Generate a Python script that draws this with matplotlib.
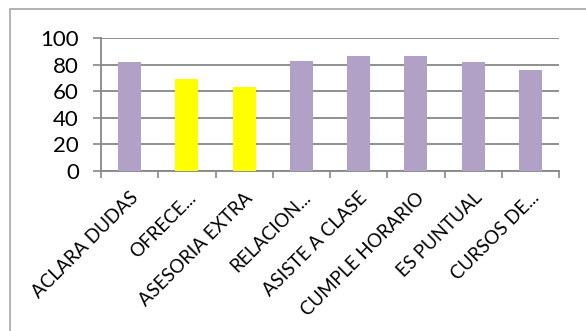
import numpy as np
import matplotlib
matplotlib.use("Agg")
import matplotlib.pyplot as plt
from matplotlib.patches import Rectangle

categories = ["ACLARA DUDAS", "OFRECE...", "ASESORIA EXTRA", "RELACION...",
              "ASISTE A CLASE", "CUMPLE HORARIO", "ES PUNTUAL", "CURSOS DE..."]
values = [82, 69, 63, 83, 87, 87, 82, 76]
highlight = [False, True, True, False, False, False, False, False]

PURPLE = "#B2A1C7"
YELLOW = "#FFFF00"
GRID = "#878787"

plt.rcParams["font.family"] = ["Lato", "DejaVu Sans"]

fig = plt.figure(figsize=(5.86, 3.31), dpi=100)
ax = fig.add_axes([101 / 586, 1 - 171 / 331, 458 / 586, (171 - 38.3) / 331])

# outer chart-area frame (cropped on right and bottom)
fig.patches.append(Rectangle((10 / 586, -0.1), 1.2, 1 - 9 / 331 + 0.1,
                             transform=fig.transFigure, fill=False,
                             edgecolor="#a6a6a6", linewidth=1.2))

x = np.arange(len(categories))
colors = [YELLOW if h else PURPLE for h in highlight]
ax.bar(x, values, width=0.4, color=colors, zorder=3)

ax.set_xlim(-0.5, len(categories) - 0.5)
ax.set_ylim(0, 100)
ax.set_yticks(np.arange(0, 101, 20))
ax.yaxis.grid(True, color=GRID, linewidth=1.3, zorder=0)

ax.set_xticks(np.arange(-0.5, len(categories), 1.0))
ax.set_xticklabels([])
ax.set_xticks(x, minor=True)
ax.set_xticklabels(categories, minor=True, rotation=45, ha="right",
                   va="top", rotation_mode="anchor", fontsize=13.5)
ax.tick_params(axis="x", which="minor", length=0, pad=13)
ax.tick_params(axis="x", which="major", length=5, width=1.2, color=GRID)
ax.tick_params(axis="y", length=6, width=1.2, color=GRID, labelsize=16, pad=10)

for s in ["top", "right"]:
    ax.spines[s].set_visible(False)
for s in ["left", "bottom"]:
    ax.spines[s].set_color(GRID)
    ax.spines[s].set_linewidth(1.3)

fig.savefig("out.png", dpi=100)
